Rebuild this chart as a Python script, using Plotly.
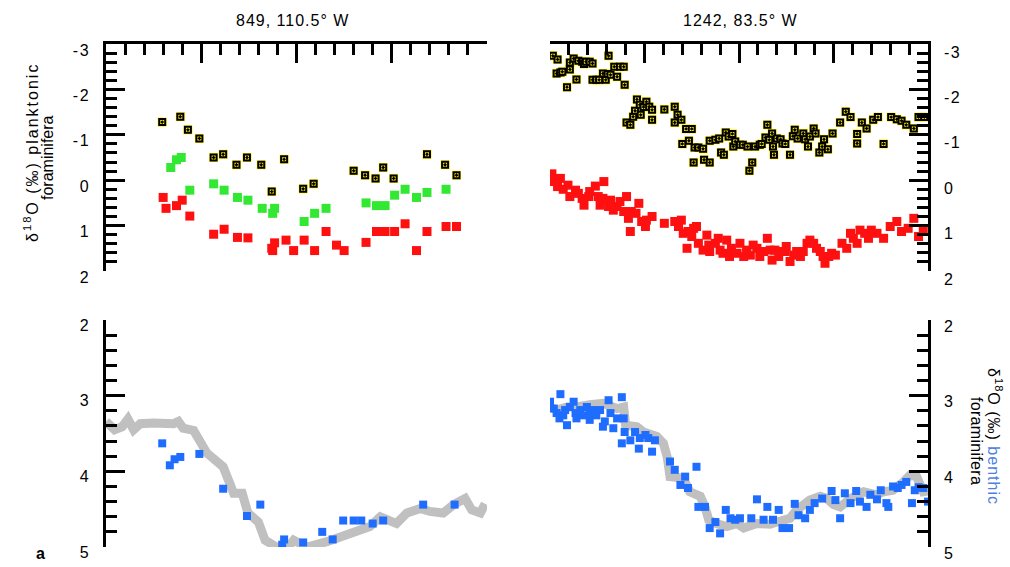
import plotly.graph_objects as go

# ---------------- Site 849, 110.5° W ----------------
# planktonic foraminifera, shallow-dwelling species (outlined yellow squares)
p849_shallow_age = [0.59, 0.78, 0.86, 0.98, 1.13, 1.23, 1.37, 1.48, 1.63, 1.74, 1.87,
                    2.07, 2.18, 2.60, 2.72, 2.83, 2.91, 3.02, 3.37, 3.56, 3.68]
p849_shallow_d18o = [-1.28, -1.40, -1.11, -0.92, -0.50, -0.57, -0.34, -0.50, -0.34, 0.25, -0.46,
                     0.19, 0.08, -0.21, -0.11, -0.04, -0.28, -0.04, -0.57, -0.34, -0.11]

# planktonic foraminifera, intermediate-depth species (green)
p849_mid_age = [0.68, 0.74, 0.79, 0.88, 1.13, 1.24, 1.38, 1.49, 1.64, 1.75, 1.77,
                2.08, 2.19, 2.31, 2.73, 2.84, 2.93, 3.03, 3.14, 3.26, 3.37, 3.57]
p849_mid_d18o = [-0.28, -0.45, -0.50, 0.22, 0.08, 0.22, 0.38, 0.44, 0.62, 0.73, 0.62,
                 0.91, 0.73, 0.62, 0.50, 0.56, 0.56, 0.33, 0.20, 0.38, 0.27, 0.20]

# planktonic foraminifera, thermocline species (red)
p849_deep_age = [0.60, 0.63, 0.74, 0.80, 0.88, 1.13, 1.24, 1.38, 1.49, 1.74, 1.75, 1.77,
                 1.89, 1.97, 2.08, 2.19, 2.31, 2.42, 2.50, 2.73, 2.84, 2.93, 3.03, 3.14,
                 3.26, 3.37, 3.57, 3.68]
p849_deep_d18o = [0.38, 0.62, 0.56, 0.44, 0.79, 1.19, 1.08, 1.26, 1.27, 1.50, 1.55, 1.38,
                  1.32, 1.55, 1.32, 1.55, 1.13, 1.43, 1.55, 1.37, 1.13, 1.13, 1.13, 0.96,
                  1.55, 1.13, 1.02, 1.02]

# benthic foraminifera (blue) and stacked reference curve (grey)
b849_age = [0.59, 0.67, 0.72, 0.78, 0.98, 1.23, 1.48, 1.62, 1.85, 1.87, 2.07, 2.27,
            2.38, 2.49, 2.60, 2.68, 2.80, 2.91, 3.33, 3.66]
b849_d18o = [3.63, 3.92, 3.84, 3.81, 3.77, 4.23, 4.59, 4.44, 4.97, 4.90, 4.94, 4.80,
             4.90, 4.65, 4.65, 4.65, 4.69, 4.65, 4.44, 4.44]
stack849_age = [0.00, 0.09, 0.17, 0.23, 0.29, 0.36, 0.50, 0.64, 0.71, 0.76, 0.81, 0.92,
                0.99, 1.06, 1.23, 1.27, 1.34, 1.43, 1.49, 1.60, 1.67, 1.79, 1.90, 1.97,
                2.11, 2.32, 2.49, 2.60, 2.67, 2.77, 2.88, 2.98, 3.05, 3.16, 3.30, 3.40,
                3.54, 3.65, 3.77, 3.84, 3.93, 3.98]
stack849_d18o = [3.34, 3.45, 3.41, 3.31, 3.45, 3.37, 3.36, 3.36, 3.37, 3.34, 3.43, 3.46,
                 3.63, 3.76, 3.94, 4.07, 4.29, 4.29, 4.55, 4.67, 4.91, 5.00, 5.02, 4.91,
                 5.00, 4.93, 4.86, 4.82, 4.78, 4.73, 4.60, 4.67, 4.69, 4.55, 4.49, 4.53,
                 4.55, 4.44, 4.36, 4.51, 4.55, 4.43]

# ---------------- Site 1242, 83.5° W ----------------
p1242_shallow_age = [0.03, 0.08, 0.07, 0.11, 0.13, 0.18, 0.21, 0.21, 0.25, 0.28, 0.30, 0.34,
                     0.36, 0.38, 0.42, 0.45, 0.45, 0.49, 0.52, 0.56, 0.59, 0.61, 0.62, 0.64,
                     0.68, 0.71, 0.74, 0.78, 0.79, 0.81, 0.85, 0.88, 0.90, 0.92, 0.95, 0.96,
                     0.99, 1.02, 1.05, 1.08, 1.08, 1.21, 1.32, 1.32, 1.35, 1.39, 1.44, 1.50,
                     1.40, 1.47, 1.53, 1.52, 1.57, 1.62, 1.63, 1.69, 1.69, 1.75, 1.79, 1.81,
                     1.84, 1.86, 1.89, 1.93, 1.94, 1.96, 2.01, 2.04, 2.09, 2.11, 2.14, 2.17,
                     2.22, 2.24, 2.28, 2.30, 2.32, 2.35, 2.36, 2.37, 2.40, 2.44, 2.46, 2.49,
                     2.54, 2.57, 2.59, 2.62, 2.68, 2.70, 2.73, 2.75, 2.79, 2.81, 2.85, 2.88,
                     2.90, 2.94, 2.99, 3.07, 3.13, 3.18, 3.25, 3.25, 3.30, 3.35, 3.42, 3.47,
                     3.53, 3.61, 3.67, 3.72, 3.77, 3.85, 3.90, 3.96]
p1242_shallow_d18o = [-2.74, -2.66, -2.35, -2.37, -2.39, -2.05, -2.44, -2.59, -2.68, -2.22,
                      -2.63, -2.61, -2.56, -2.61, -2.61, -2.57, -2.21, -2.21, -2.21, -2.35,
                      -2.21, -2.34, -2.74, -2.32, -2.50, -2.28, -2.50, -2.50, -2.10, -1.27,
                      -1.22, -1.40, -1.53, -1.78, -1.66, -1.44, -1.61, -1.73, -1.62, -1.55,
                      -1.33, -1.56, -1.62, -1.27, -1.44, -1.33, -1.13, -1.13, -0.80, -0.87,
                      -0.72, -0.39, -0.72, -0.69, -0.45, -0.87, -0.39, -0.89, -0.92, -0.61,
                      -0.56, -1.05, -0.96, -1.02, -0.74, -0.85, -0.78, -0.78, -0.74, -0.21,
                      -0.39, -0.74, -0.78, -0.80, -0.94, -1.22, -0.89, -1.03, -0.74, -0.56,
                      -0.92, -0.90, -0.81, -0.80, -0.56, -0.97, -1.11, -0.92, -1.03, -0.90,
                      -0.74, -0.96, -1.14, -1.03, -0.61, -0.74, -0.90, -0.68, -1.03, -1.27,
                      -1.51, -1.39, -0.81, -1.02, -1.27, -1.14, -1.33, -1.39, -0.80, -1.39,
                      -1.34, -1.31, -1.22, -1.14, -1.39, -1.39]

p1242_deep_age = [0.02, 0.04, 0.11, 0.08, 0.14, 0.19, 0.21, 0.27, 0.30, 0.34, 0.36, 0.41,
                  0.42, 0.48, 0.51, 0.53, 0.57, 0.56, 0.62, 0.64, 0.67, 0.71, 0.74, 0.78,
                  0.81, 0.83, 0.85, 0.86, 0.91, 0.94, 0.97, 1.01, 1.02, 1.08, 1.21, 1.32,
                  1.36, 1.39, 1.41, 1.45, 1.46, 1.52, 1.50, 1.55, 1.57, 1.62, 1.66, 1.68,
                  1.69, 1.75, 1.78, 1.80, 1.83, 1.87, 1.90, 1.92, 1.98, 2.01, 2.05, 2.08,
                  2.12, 2.15, 2.19, 2.22, 2.26, 2.30, 2.33, 2.35, 2.38, 2.42, 2.45, 2.49,
                  2.50, 2.54, 2.58, 2.61, 2.65, 2.68, 2.72, 2.75, 2.79, 2.82, 2.86, 2.89,
                  2.91, 2.95, 2.98, 3.02, 3.09, 3.14, 3.18, 3.21, 3.25, 3.28, 3.33, 3.37,
                  3.40, 3.46, 3.53, 3.60, 3.67, 3.72, 3.79, 3.85, 3.90, 3.95]
p1242_deep_d18o = [-0.14, 0.03, -0.04, 0.14, 0.20, 0.11, 0.36, 0.22, 0.29, 0.40, 0.55, 0.36,
                   0.25, 0.13, 0.36, 0.55, 0.03, 0.40, 0.58, 0.44, 0.66, 0.58, 0.47, 0.69,
                   0.36, 0.84, 1.13, 0.69, 0.73, 0.51, 0.91, 1.02, 0.88, 0.80, 0.95, 0.91,
                   1.02, 0.88, 1.17, 1.50, 1.13, 1.06, 1.24, 1.02, 1.39, 1.54, 1.21, 1.43,
                   1.57, 1.39, 1.28, 1.54, 1.61, 1.32, 1.68, 1.50, 1.61, 1.39, 1.68, 1.54,
                   1.65, 1.43, 1.50, 1.68, 1.57, 1.28, 1.54, 1.76, 1.54, 1.68, 1.57, 1.57,
                   1.46, 1.79, 1.65, 1.57, 1.68, 1.57, 1.39, 1.32, 1.39, 1.50, 1.57, 1.68,
                   1.83, 1.68, 1.61, 1.65, 1.39, 1.50, 1.17, 1.28, 1.39, 1.10, 1.17, 1.28,
                   1.10, 1.17, 1.28, 1.02, 0.91, 1.13, 1.06, 0.84, 1.24, 1.10]

b1242_age = [0.00, 0.04, 0.11, 0.07, 0.10, 0.14, 0.18, 0.16, 0.21, 0.25, 0.27, 0.28, 0.32,
             0.35, 0.39, 0.42, 0.42, 0.46, 0.49, 0.53, 0.56, 0.58, 0.62, 0.64, 0.67, 0.71,
             0.76, 0.76, 0.78, 0.79, 0.85, 0.90, 0.94, 0.95, 1.01, 1.04, 1.08, 1.11, 1.27,
             1.32, 1.38, 1.43, 1.46, 1.55, 1.57, 1.64, 1.69, 1.75, 1.80, 1.86, 1.91, 1.96,
             2.01, 2.13, 2.19, 2.26, 2.30, 2.36, 2.42, 2.46, 2.53, 2.59, 2.63, 2.70, 2.75,
             2.80, 2.88, 2.98, 3.02, 3.07, 3.12, 3.18, 3.24, 3.28, 3.35, 3.39, 3.46, 3.50,
             3.56, 3.58, 3.63, 3.68, 3.72, 3.77, 3.83, 3.86, 3.90, 3.95, 4.00]
b1242_d18o = [3.08, 3.17, 2.98, 3.23, 3.30, 3.26, 3.39, 3.19, 3.15, 3.08, 3.23, 3.30, 3.19,
              3.26, 3.15, 3.23, 3.32, 3.19, 3.26, 3.19, 3.41, 3.34, 3.06, 3.23, 3.43, 3.30,
              3.02, 3.63, 3.30, 3.48, 3.59, 3.48, 3.70, 3.56, 3.52, 3.56, 3.74, 3.59, 3.87,
              3.98, 4.18, 4.07, 4.22, 3.94, 4.47, 4.47, 4.75, 4.67, 4.82, 4.51, 4.62, 4.64,
              4.62, 4.62, 4.37, 4.64, 4.47, 4.64, 4.51, 4.75, 4.75, 4.43, 4.58, 4.62, 4.51,
              4.42, 4.36, 4.26, 4.38, 4.62, 4.29, 4.42, 4.26, 4.40, 4.47, 4.31, 4.37, 4.25,
              4.42, 4.47, 4.20, 4.22, 4.18, 4.14, 4.42, 4.25, 4.21, 4.22, 4.40]
stack1242_age = [0.00, 0.07, 0.18, 0.28, 0.42, 0.56, 0.71, 0.78, 0.80, 0.92, 0.99, 1.13,
                 1.20, 1.24, 1.27, 1.41, 1.48, 1.59, 1.64, 1.68, 1.76, 1.87, 1.98, 2.05,
                 2.19, 2.33, 2.40, 2.47, 2.54, 2.61, 2.68, 2.75, 2.86, 2.93, 3.00, 3.07,
                 3.18, 3.32, 3.39, 3.46, 3.53, 3.63, 3.74, 3.81, 3.88, 3.95, 4.04]
stack1242_d18o = [3.15, 3.19, 3.15, 3.15, 3.12, 3.10, 3.17, 3.15, 3.39, 3.41, 3.48, 3.54,
                  3.63, 3.81, 4.07, 4.09, 4.27, 4.33, 4.47, 4.64, 4.69, 4.73, 4.69, 4.75,
                  4.69, 4.70, 4.67, 4.64, 4.62, 4.51, 4.44, 4.38, 4.33, 4.36, 4.44, 4.47,
                  4.36, 4.27, 4.29, 4.31, 4.27, 4.25, 4.14, 4.05, 4.07, 4.27, 4.25]

# axis ticks
plank_ticks = [-3, -2, -1, 0, 1, 2]
plank_ticktext = ["-3", "-2", "-1", "0", "1", "2"]
benth_ticks = [2, 3, 4, 5]
benth_ticktext = ["2", "3", "4", "5"]
age_ticks = [0, 1, 2, 3, 4]

RED = "#ff1010"
GREEN = "#33e833"
BLUE = "#1f6dff"
YELLOW = "#ffee00"
GREY = "#c0c0c0"
FONT = "Arial, Liberation Sans, sans-serif"


def spaced(s, px):
    return "<span style='letter-spacing:%spx'>%s</span>" % (px, s)


fig = go.Figure()


def squares(x, y, color, size, xa, ya):
    fig.add_trace(go.Scatter(x=x, y=y, mode="markers", xaxis=xa, yaxis=ya,
                             marker=dict(symbol="square", size=size, color=color,
                                         line=dict(width=0)),
                             showlegend=False, hoverinfo="x+y"))


def framed(x, y, xa, ya):
    # yellow backing square with a black framed, dotted square on top
    squares(x, y, YELLOW, 9, xa, ya)
    fig.add_trace(go.Scatter(x=x, y=y, mode="markers", xaxis=xa, yaxis=ya,
                             marker=dict(symbol="square-dot", size=6, color=YELLOW,
                                         line=dict(width=2, color="black")),
                             showlegend=False, hoverinfo="x+y"))


def stack(x, y, xa, ya):
    fig.add_trace(go.Scatter(x=x, y=y, mode="lines", xaxis=xa, yaxis=ya,
                             line=dict(color=GREY, width=9),
                             showlegend=False, hoverinfo="skip"))


# Site 849
squares(p849_deep_age, p849_deep_d18o, RED, 9, "x", "y")
squares(p849_mid_age, p849_mid_d18o, GREEN, 9, "x", "y")
framed(p849_shallow_age, p849_shallow_d18o, "x", "y")
stack(stack849_age, stack849_d18o, "x3", "y3")
squares(b849_age, b849_d18o, BLUE, 8, "x3", "y3")

# Site 1242
squares(p1242_deep_age, p1242_deep_d18o, RED, 9, "x2", "y2")
framed(p1242_shallow_age, p1242_shallow_d18o, "x2", "y2")
stack(stack1242_age, stack1242_d18o, "x4", "y4")
squares(b1242_age, b1242_d18o, BLUE, 8, "x4", "y4")

W, H = 1010, 567
left_dom = [106 / W, 487 / W]
right_dom = [550 / W, 928 / W]
top_dom = [1 - 271 / H, 1 - 44 / H]
bot_dom = [1 - 547 / H, 1 - 320 / H]

tick_style = dict(ticks="inside", ticklen=19, tickwidth=2.5, tickcolor="black",
                  showline=True, linecolor="black", linewidth=2.5,
                  showgrid=False, zeroline=False)
minor_style = dict(ticks="inside", ticklen=11, tickwidth=2.5, tickcolor="black",
                   tickmode="linear", tick0=0, dtick=0.2, showgrid=False)

age_axis = dict(range=[0, 4], side="top", tickmode="array", tickvals=age_ticks,
                showticklabels=False, minor=minor_style, **tick_style)
hidden_age = dict(range=[0, 4], visible=False)

tick_font = dict(family=FONT, size=16, color="black")
plank_axis = dict(range=[2, -3], tickmode="array", tickvals=plank_ticks,
                  ticktext=[spaced(t, 1.5) for t in plank_ticktext], minor=minor_style,
                  tickfont=tick_font, **tick_style)
benth_axis = dict(range=[5, 2], tickmode="array", tickvals=benth_ticks,
                  ticktext=[spaced(t, 1.5) for t in benth_ticktext], minor=minor_style,
                  tickfont=tick_font, **tick_style)

fig.update_layout(
    width=W, height=H, autosize=False,
    margin=dict(l=0, r=0, t=0, b=0, pad=0, autoexpand=False),
    paper_bgcolor="white", plot_bgcolor="rgba(0,0,0,0)",
    font=dict(family=FONT, size=16, color="black"),
    xaxis=dict(domain=left_dom, anchor="y", **age_axis),
    xaxis2=dict(domain=right_dom, anchor="y2", **age_axis),
    xaxis3=dict(domain=left_dom, anchor="y3", **hidden_age),
    xaxis4=dict(domain=right_dom, anchor="y4", **hidden_age),
    yaxis=dict(domain=top_dom, anchor="x", side="left", ticklabelstandoff=10,
               ticklabelshift=-6, **plank_axis),
    yaxis2=dict(domain=top_dom, anchor="x2", side="right", ticklabelstandoff=10,
                ticklabelshift=-8, **plank_axis),
    yaxis3=dict(domain=bot_dom, anchor="x3", side="left", ticklabelstandoff=10,
                ticklabelshift=-5, **benth_axis),
    yaxis4=dict(domain=bot_dom, anchor="x4", side="right", ticklabelstandoff=10,
                ticklabelshift=-6, **benth_axis),
)

ann = [
    dict(text=spaced("849, 110.5° W", 1), x=292 / W, y=1 - 20 / H),
    dict(text=spaced("1242, 83.5° W", 1), x=740 / W, y=1 - 20 / H),
    dict(text=spaced("δ<sup>18</sup>O (‰) planktonic", 2), x=31 / W, y=1 - 153 / H,
         textangle=-90),
    dict(text="foraminifera", x=47 / W, y=1 - 158 / H, textangle=-90),
    dict(text=spaced("δ<sup>18</sup>O (‰) <span style='color:#4f7fe3'>benthic</span>", 1),
         x=995 / W, y=1 - 436 / H, textangle=90),
    dict(text=spaced("foraminifera", 0.3), x=977 / W, y=1 - 441 / H, textangle=90),
    dict(text="<b>a</b>", x=40 / W, y=1 - 553 / H),
]
for a in ann:
    fig.add_annotation(xref="paper", yref="paper", showarrow=False,
                       xanchor="center", yanchor="middle", **a)

# the page body gets no default margin so the figure fills the window exactly
fig.write_html("out.html", config={"responsive": False},
               post_script="document.body.style.margin='0';")
